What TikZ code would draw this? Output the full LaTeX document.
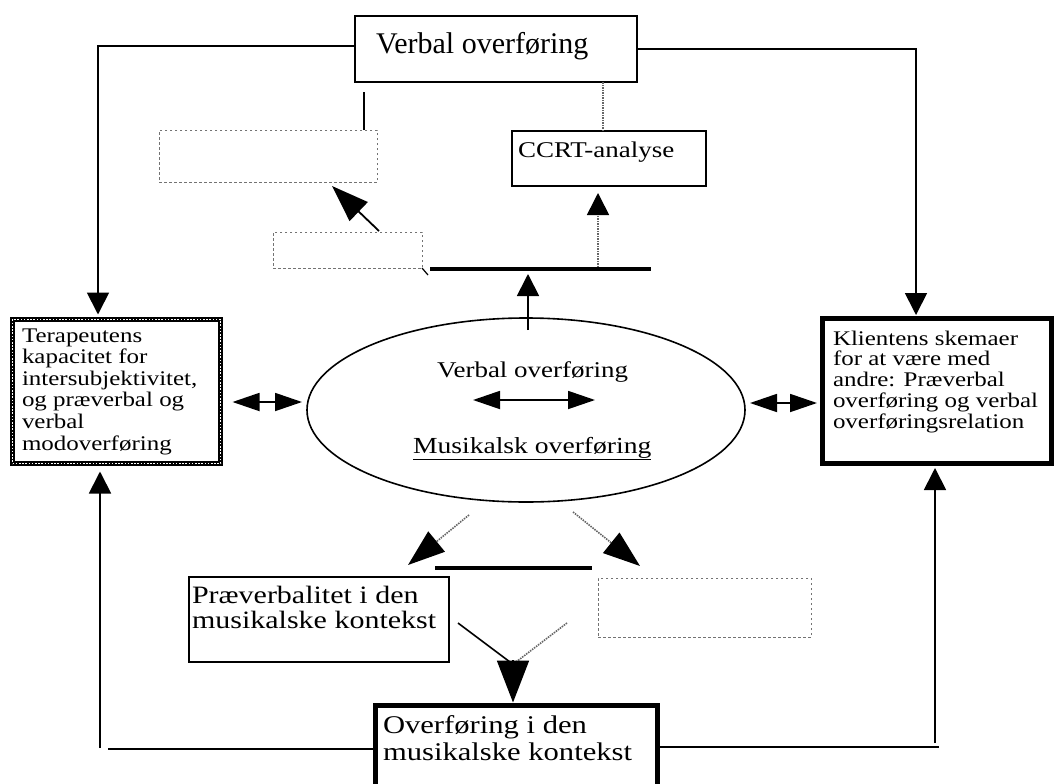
\documentclass[tikz,border=0pt]{standalone}
\usepackage{fontspec}
\setmainfont{Liberation Serif}
\newfontfamily\widefont[FakeStretch=1.2]{Liberation Serif}
\usetikzlibrary{arrows.meta,shapes.geometric,calc}
\begin{document}
\begin{tikzpicture}[x=1pt,y=-1pt,
  frame/.style={draw, line width=1.6pt, inner sep=0pt, outer sep=0pt, anchor=north west},
  heavyframe/.style={frame, line width=5pt},
  checkframe/.style={frame, line width=5pt,
    postaction={draw=white, line width=1.6pt, dash pattern=on 1.6pt off 1.6pt}},
  ghostframe/.style={draw=black!55, line width=1pt, dash pattern=on 2.5pt off 2.5pt,
    inner sep=0pt, outer sep=0pt, anchor=north west},
  txt/.style={inner sep=0pt, outer sep=0pt, anchor=base west},
  conn/.style={draw, line width=1.8pt},
  dotconn/.style={draw=black!60, line width=1.6pt, dash pattern=on 1.5pt off 1pt},
  bar/.style={draw, line width=3.5pt},
  tipS/.tip={Triangle[length=22pt,width=22pt,color=black]},
  tipD/.tip={Triangle[length=27pt,width=18pt,color=black]},
  tipL/.tip={Triangle[length=37pt,width=26pt,color=black]},
  tipB/.tip={Triangle[length=42pt,width=32pt,color=black]},
]
\useasboundingbox (0,0) rectangle (1057,784);
\fill[white] (0,0) rectangle (1057,784);
\clip (0,0) rectangle (1057,784);

% ---- boxes ----
\node[frame, minimum width=282pt, minimum height=66pt] (vtop) at (355,16) {};
\node[frame, minimum width=194pt, minimum height=55pt] (ccrt) at (512,131) {};
\node[ghostframe, minimum width=218pt, minimum height=52pt] (dbox1) at (159,130) {};
\node[ghostframe, minimum width=149pt, minimum height=36pt] (dbox2) at (273,232) {};
\node[checkframe, minimum width=208pt, minimum height=144pt] (tera) at (12.5,319.5) {};
\node[heavyframe, minimum width=229pt, minimum height=145pt] (klient) at (822,318) {};
\node[ellipse, draw, line width=1.6pt, inner sep=0pt, outer sep=0pt,
      minimum width=438pt, minimum height=184pt] (ell) at (526,410) {};
\node[frame, minimum width=260pt, minimum height=85pt] (prae) at (189,577) {};
\node[ghostframe, minimum width=213pt, minimum height=59pt] (dbox3) at (598,578) {};
\node[heavyframe, minimum width=282pt, minimum height=110pt] (ovf) at (375.5,705.5) {};

% ---- texts ----
\node[txt, font=\fontsize{30}{33}\selectfont] (vtopT) at (376,53) {Verbal overføring};
\node[txt, font=\widefont\fontsize{22.5}{25}\selectfont] (ccrtT) at (518,157) {CCRT-analyse};
\node[txt] (teraT) at (22,342) {\parbox[t]{205pt}{\raggedright\widefont\fontsize{20.8}{21.6}\selectfont
  Terapeutens\\kapacitet for\\intersubjektivitet,\\og præverbal og\\verbal\\modoverføring}};
\node[txt] (klientT) at (833,345) {\parbox[t]{220pt}{\raggedright\widefont\fontsize{20.8}{20.8}\selectfont
  Klientens skemaer\\for at være med\\andre: Præverbal\\overføring og verbal\\overføringsrelation}};
\node[txt, font=\widefont\fontsize{22.5}{24}\selectfont] (ellT1) at (437,377) {Verbal overføring};
\node[txt, font=\widefont\fontsize{23}{24}\selectfont] (ellT2) at (413,453) {\underline{Musikalsk overføring}};
\node[txt] (praeT) at (192,603) {\parbox[t]{250pt}{\raggedright\widefont\fontsize{25}{25}\selectfont
  Præverbalitet i den\\musikalske kontekst}};
\node[txt] (ovfT) at (383,733) {\parbox[t]{270pt}{\raggedright\widefont\fontsize{25.5}{27}\selectfont
  Overføring i den\\musikalske kontekst}};

% ---- helper points ----
\coordinate (bar1w) at (430,269);
\coordinate (bar1e) at (651,269);
\coordinate (bar1tap) at (598,267);
\coordinate (bar2w) at (435,568);
\coordinate (bar2e) at (592,568);
\coordinate (merge) at (513,660);
\coordinate (lfoot) at (100,748);
\coordinate (rfoot) at (935,743);

% ---- connectors, upper half ----
\draw[conn, -{tipS}] ($(vtop.west)+(0,-3)$) -| ($(tera.north)+(-18.5,-5)$);
\draw[conn, -{tipS}] (vtop.east) -| ($(klient.north)+(-20.5,-3)$);
\draw[dotconn] ($(ccrt.north)+(-6,0)$) -- ($(ccrt.north |- vtop.south)+(-6,0)$);
\draw[conn] ($(dbox1.north east)+(-13,0)$) -- ++(0,-38);
\draw[conn, -{tipL}] ($(dbox2.north west)+(106,-1)$) -- ($(dbox1.south east)+(-45,4)$);
\draw[line width=1.2pt] (dbox2.south east) -- ++(6,7);
\draw[bar] (bar1w) -- (bar1e);
\draw[dotconn, -{tipS}] (bar1tap) -- ($(bar1tap |- ccrt.south)+(0,7)$);
\draw[conn, -{tipS}] ($(ell.north)+(2,12)$) -- ($(ell.north |- bar1w)+(2,5)$);

% ---- double arrows ----
\draw[conn, {tipD}-{tipD}] ($(tera.east)+(12,10.5)$) -- ($(ell.west)+(-5,-8)$);
\draw[conn, {tipD}-{tipD}] (473,400) -- (595,400);
\draw[conn, {tipD}-{tipD}] ($(ell.east)+(5,-7)$) -- ($(klient.west)+(-5,12.5)$);

% ---- connectors, lower half ----
\draw[dotconn, -{tipL}] ($(ell.south)+(-57,13)$) -- ($(ell.south)+(-118,63)$);
\draw[dotconn, -{tipL}] ($(ell.south)+(47,10)$) -- ($(ell.south)+(114,64)$);
\draw[bar] (bar2w) -- (bar2e);
\draw[line width=1.6pt] ($(prae.east)+(9,3.5)$) -- ($(merge)+(-3,2)$);
\draw[dotconn] ($(dbox3.west)+(-31,15.5)$) -- ($(merge)+(3,2)$);
\draw[conn, -{tipB}] (merge) -- ($(ovf.north)+(-3.5,-3)$);

% ---- feedback loops along the bottom ----
\draw[conn] ($(ovf.north west)+(0,43.5)$) -- ++(-268,0);
\draw[conn, -{tipS}] (lfoot) -- ($(tera.south)+(-16.5,8)$);
\draw[conn] ($(ovf.north east)+(0,41.5)$) -- ++(281.5,0);
\draw[conn, -{tipS}] (rfoot) -- ($(klient.south)+(-1.5,5)$);
\end{tikzpicture}
\end{document}
